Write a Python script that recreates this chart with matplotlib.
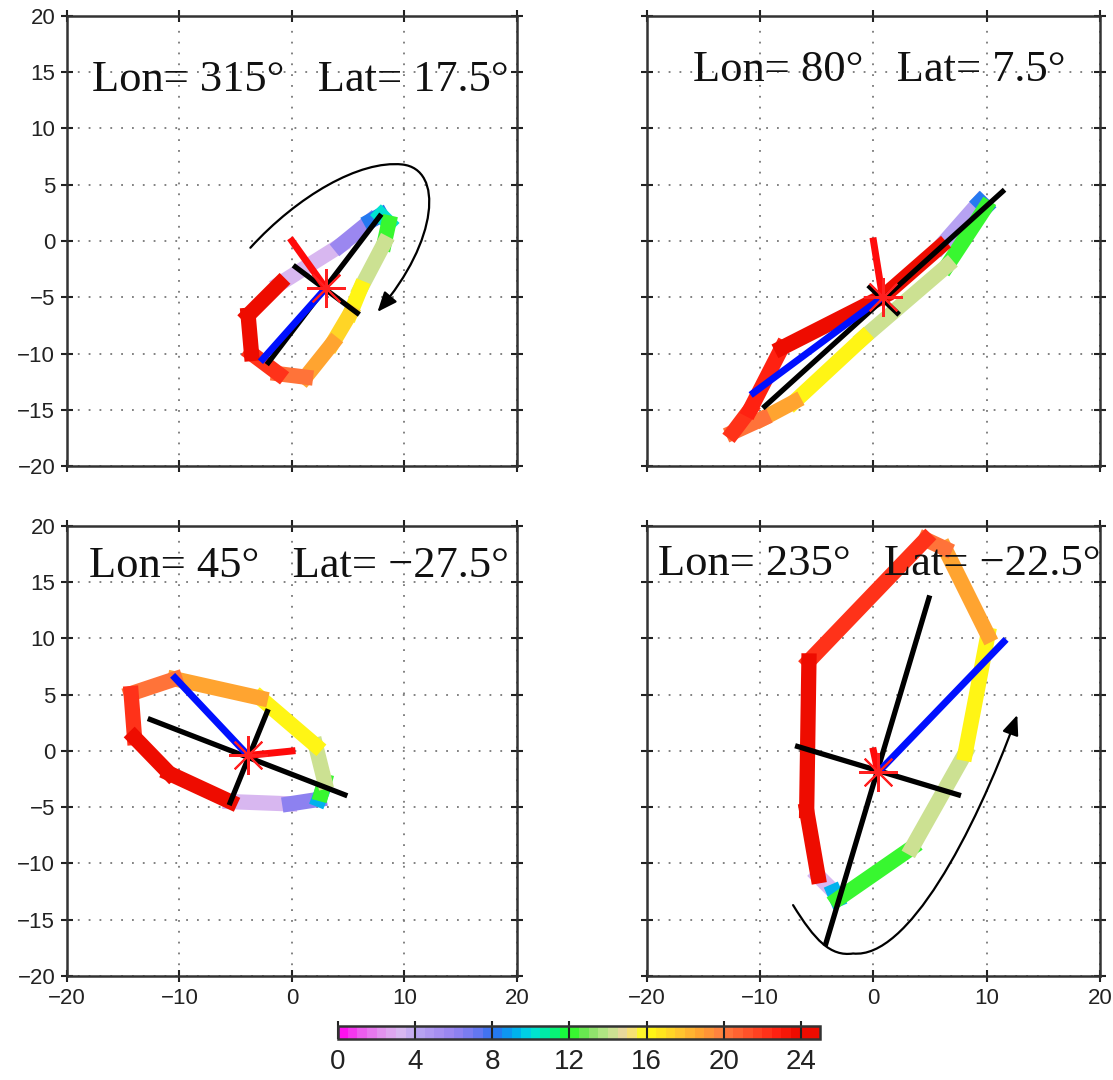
import numpy as np
import matplotlib
matplotlib.use("Agg")
import matplotlib.pyplot as plt
from matplotlib.colors import LinearSegmentedColormap, Normalize
from matplotlib.cm import ScalarMappable
from matplotlib.path import Path
from matplotlib.patches import FancyArrowPatch

plt.rcParams["font.family"] = ["Liberation Sans", "DejaVu Sans"]

# hour -> colour (0..24 h)
hour_colors = [
    "#ff10f0", "#ec5cee", "#e290ee", "#dab8f0", "#b8a4f2", "#a890f0", "#9282f0",
    "#6c78f0", "#2c70f0", "#00a8f0", "#00e0e0", "#00f090", "#20ff20", "#80e060",
    "#bde68c", "#f2d4a0", "#ffff10", "#ffe020", "#ffc030", "#ffa030", "#ff8040",
    "#ff6030", "#ff4020", "#ff2010", "#ee0c00",
]
cbar_ticks = [0, 4, 8, 12, 16, 20, 24]

titles = [
    "Lon= 315°   Lat= 17.5°",
    "Lon= 80°   Lat= 7.5°",
    "Lon= 45°   Lat= \u221227.5°",
    "Lon= 235°   Lat= \u221222.5°",
]

# hodograph vertices (closed) and the hour used to colour each segment
tl_u = [-1.1, 4.3, 7.0, 7.9, 8.6, 8.2, 6.1, 5.2, 3.6, 1.2, -1.2, -3.6, -3.9, -1.1]
tl_v = [-3.8, -0.4, 1.8, 2.3, 1.6, -0.2, -4.2, -6.4, -9.1, -12.1, -11.8, -10.0, -6.6, -3.8]
tl_hr = [3, 5.5, 8, 10, 12, 14, 16, 17, 18.5, 20, 22, 24, 24]

tr_u = [5.9, 9.4, 9.9, 6.5, -0.9, -7.0, -9.8, -12.4, -10.9, -8.1, 0.9, 5.9]
tr_v = [-0.5, 3.5, 3.0, -2.2, -8.6, -14.3, -15.8, -17.0, -15.0, -9.5, -4.9, -0.5]
tr_hr = [4, 8, 12, 14, 16, 18.5, 20, 22, 22.5, 24, 24]

bl_u = [-5.5, -0.2, 2.4, 2.6, 2.9, 2.1, -2.8, -10.4, -14.3, -14.0, -10.9, -5.5]
bl_v = [-4.5, -4.7, -4.3, -3.8, -2.7, 0.5, 4.7, 6.4, 5.1, 1.2, -2.0, -4.5]
bl_hr = [3, 6, 9, 12, 14, 16, 18.5, 20, 22, 24, 24]

br_u = [-4.9, -3.5, -3.2, 3.4, 8.1, 10.1, 6.3, 4.6, -5.7, -5.9, -4.9]
br_v = [-11.1, -12.5, -13.2, -8.6, -0.2, 10.3, 18.0, 18.8, 8.0, -5.3, -11.1]
br_hr = [3, 9, 12, 14, 16, 18.5, 20, 22, 24, 24]

# ellipse centre, major / minor axis ends, blue vector end
centers = [(3.0, -4.2), (0.8, -5.0), (-3.9, -0.4), (0.4, -1.9)]
major_ends = [((7.8, 2.2), (-2.1, -10.8)), ((-9.6, -14.7), (11.4, 4.4)),
              ((-12.6, 2.8), (4.7, -3.9)), ((4.9, 13.6), (-4.2, -17.1))]
minor_ends = [((0.3, -2.3), (5.8, -6.4)), ((-0.3, -4.1), (2.1, -6.4)),
              ((-5.5, -4.6), (-2.2, 3.5)), ((-6.7, 0.4), (7.5, -3.9))]
blue_ends = [(-2.6, -10.5), (-10.6, -13.5), (-10.4, 6.5), (11.5, 9.7)]

# rotation arrows: cubic bezier points (start, c, c, mid, c, c, end)
tl_arrow = [(-3.7, -0.6), (0.5, 4.0), (6.0, 7.2), (9.8, 6.8), (13.5, 6.4), (13.0, 0.0), (7.6, -6.3)]
br_arrow = [(-7.1, -13.7), (-5.2, -16.8), (-3.8, -18.3), (-1.8, -18.0), (3.0, -18.5), (8.8, -7.5), (12.7, 3.2)]

title_pos = [(0.7, 13.3), (0.5, 14.2), (0.6, 15.5), (0.5, 15.6)]

loops = [(tl_u, tl_v, tl_hr), (tr_u, tr_v, tr_hr), (bl_u, bl_v, bl_hr), (br_u, br_v, br_hr)]
arrows = [tl_arrow, None, None, br_arrow]

positions = [h / 25 for h in range(25)] + [1.0]
cmap = LinearSegmentedColormap.from_list("hours", list(zip(positions, hour_colors + [hour_colors[-1]])), N=50)
norm = Normalize(0, 25)

fig = plt.figure(figsize=(11.13, 10.8), dpi=100)
rects = [
    [0.0602, 0.5685, 0.4043, 0.4167],
    [0.5813, 0.5685, 0.4070, 0.4167],
    [0.0602, 0.0963, 0.4043, 0.4167],
    [0.5813, 0.0963, 0.4070, 0.4167],
]

for i, rect in enumerate(rects):
    ax = fig.add_axes(rect)
    ax.set_xlim(-20, 20)
    ax.set_ylim(-20, 20)
    ax.set_xticks(range(-20, 21, 10))
    ax.set_yticks(range(-20, 21, 5))
    ax.grid(True, linestyle=(0, (1, 5)), color="#777777", lw=1.3)
    ax.set_axisbelow(True)
    ax.tick_params(direction="inout", length=9, width=1.5, top=True, right=True,
                   labelsize=16, colors="#222222", pad=4)
    if i % 2 == 1:
        ax.tick_params(labelleft=False)
    if i < 2:
        ax.tick_params(labelbottom=False)
    for sp in ax.spines.values():
        sp.set_linewidth(1.8)
        sp.set_color("#333333")

    u, v, hr = loops[i]
    for k in range(len(hr)):
        ax.plot(u[k:k + 2], v[k:k + 2], color=cmap(norm(hr[k])), lw=11,
                solid_capstyle="projecting", zorder=2)

    cx, cy = centers[i]
    (a1, a2), (b1, b2) = major_ends[i], minor_ends[i]
    ax.plot([a1[0], a2[0]], [a1[1], a2[1]], color="black", lw=3.8, zorder=3)
    ax.plot([b1[0], b2[0]], [b1[1], b2[1]], color="black", lw=3.8, zorder=3)
    ax.plot([cx, blue_ends[i][0]], [cy, blue_ends[i][1]], color="#0010ff", lw=5, zorder=4)
    ax.plot([0, cx], [0, cy], color="#ff0a0a", lw=5, zorder=4)
    ax.plot(cx, cy, marker=(8, 2, 0), ms=28, mew=1.5, color="#ff2020", zorder=5)

    if arrows[i] is not None:
        pts = arrows[i]
        codes = [Path.MOVETO] + [Path.CURVE4] * 6
        arr = FancyArrowPatch(path=Path(pts, codes), arrowstyle="-|>,head_length=12,head_width=5",
                              color="black", lw=1.6, zorder=6)
        ax.add_patch(arr)

    tx, ty = title_pos[i]
    ax.text(tx, ty, titles[i], family=["Liberation Serif", "DejaVu Serif"], fontsize=32,
            ha="center", va="baseline", color="#111111", zorder=7)

cax = fig.add_axes([0.3037, 0.0380, 0.4331, 0.0120])
cb = fig.colorbar(ScalarMappable(norm=norm, cmap=cmap), cax=cax, orientation="horizontal",
                  ticks=cbar_ticks)
cb.ax.tick_params(direction="in", length=13, width=1.5, labelsize=20, colors="#222222", pad=7)
cb.outline.set_linewidth(1.8)
cb.outline.set_edgecolor("#333333")

fig.savefig("out.png", dpi=100)
